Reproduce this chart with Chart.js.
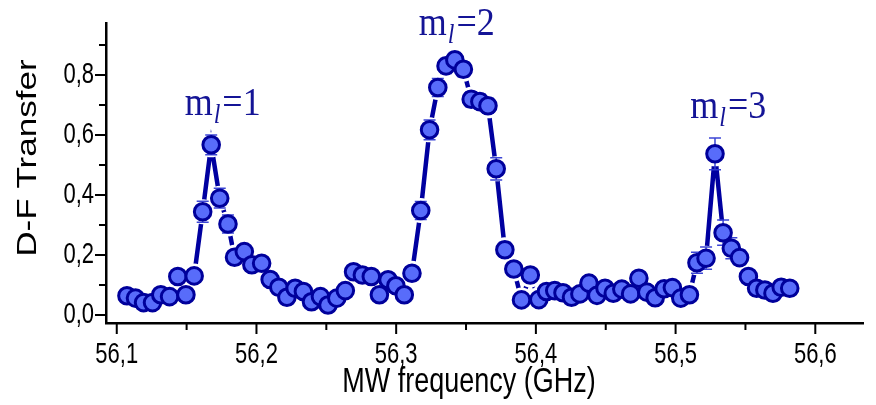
<!DOCTYPE html>
<html>
<head>
<meta charset="utf-8">
<script src="https://cdn.jsdelivr.net/npm/chart.js@4.4.1/dist/chart.umd.min.js"></script>
<style>
  html, body { margin: 0; padding: 0; background: #fff; }
  canvas { display: block; }
</style>
</head>
<body>
<canvas id="myChart" width="876" height="405"></canvas>
<script>
// MW frequency (GHz)
const freq = [
  56.1073, 56.1134, 56.1192, 56.1256, 56.1315, 56.1378, 56.1437, 56.1495, 56.1554, 56.1615,
  56.1676, 56.1737, 56.1796, 56.1843, 56.1913, 56.1967, 56.2037, 56.2098, 56.2160, 56.2218,
  56.2277, 56.2336, 56.2394, 56.2458, 56.2512, 56.2575, 56.2636, 56.2695, 56.2758, 56.2822,
  56.2880, 56.2942, 56.2998, 56.3058, 56.3113, 56.3176, 56.3239, 56.3298, 56.3357, 56.3420,
  56.3481, 56.3537, 56.3599, 56.3657, 56.3716, 56.3778, 56.3842, 56.3897, 56.3960, 56.4021,
  56.4076, 56.4135, 56.4194, 56.4255, 56.4315, 56.4380, 56.4437, 56.4495, 56.4554, 56.4615,
  56.4678, 56.4737, 56.4794, 56.4854, 56.4918, 56.4977, 56.5037, 56.5099, 56.5153, 56.5218,
  56.5282, 56.5340, 56.5399, 56.5458, 56.5521, 56.5580, 56.5639, 56.5697, 56.5756, 56.5817
];
// D-F transfer
const transfer = [
  0.064, 0.056, 0.041, 0.041, 0.067, 0.061, 0.128, 0.067, 0.130, 0.344,
  0.567, 0.389, 0.303, 0.192, 0.211, 0.167, 0.172, 0.118, 0.092, 0.059,
  0.089, 0.078, 0.044, 0.061, 0.033, 0.056, 0.081, 0.144, 0.133, 0.128,
  0.067, 0.117, 0.097, 0.067, 0.139, 0.348, 0.617, 0.758, 0.830, 0.850,
  0.819, 0.719, 0.711, 0.697, 0.487, 0.217, 0.153, 0.050, 0.133, 0.051,
  0.078, 0.081, 0.074, 0.059, 0.070, 0.106, 0.065, 0.089, 0.072, 0.086,
  0.070, 0.122, 0.076, 0.057, 0.087, 0.091, 0.056, 0.067, 0.174, 0.189,
  0.537, 0.274, 0.222, 0.191, 0.128, 0.089, 0.083, 0.072, 0.092, 0.089
];
// error bars (half height)
const errs = [
  0.015, 0.015, 0.015, 0.015, 0.015, 0.015, 0.015, 0.015, 0.015, 0.035,
  0.033, 0.033, 0.030, 0.020, 0.020, 0.020, 0.020, 0.020, 0.015, 0.015,
  0.015, 0.015, 0.015, 0.015, 0.015, 0.015, 0.015, 0.015, 0.015, 0.015,
  0.015, 0.015, 0.015, 0.015, 0.015, 0.030, 0.033, 0.030, 0.025, 0.025,
  0.025, 0.025, 0.025, 0.025, 0.037, 0.025, 0.020, 0.015, 0.015, 0.015,
  0.015, 0.015, 0.015, 0.015, 0.015, 0.015, 0.015, 0.015, 0.015, 0.015,
  0.015, 0.015, 0.015, 0.015, 0.015, 0.015, 0.015, 0.015, 0.035, 0.037,
  0.053, 0.042, 0.035, 0.025, 0.015, 0.015, 0.015, 0.015, 0.015, 0.015
];

const xTicks = [56.1, 56.2, 56.3, 56.4, 56.5, 56.6];
const xMinor = [56.15, 56.25, 56.35, 56.45, 56.55];
const yTicks = [0.0, 0.2, 0.4, 0.6, 0.8];
const yMinor = [0.1, 0.3, 0.5, 0.7, 0.9];

// peak labels m_l = 1,2,3
const peakX = [56.1486, 56.3162, 56.5105];
const peakY = [0.667, 0.933, 0.657];
const peakTail = ['=1', '=2', '=3'];

const navy = 'rgb(0,0,160)';
const stretch = 1.3; // axis text in the original is taller than wide
const sans = '"Liberation Sans", Arial, sans-serif';
const serif = '"Liberation Serif", "Times New Roman", serif';
const fmt = v => v.toFixed(1).replace('.', ',');
const pts = freq.map((f, i) => ({x: f, y: transfer[i]}));

function tallText(ctx, txt, x, y, rot, s) {
  s = s || stretch;
  ctx.save();
  ctx.translate(x, y);
  if (rot) { ctx.rotate(-Math.PI / 2); ctx.scale(s, 1); }
  else ctx.scale(1, s);
  ctx.fillText(txt, 0, 0);
  ctx.restore();
}

const decor = {
  id: 'decor',
  beforeDatasetDraw(chart, args) {
    if (args.index !== 0) return;
    const ctx = chart.ctx, xs = chart.scales.x, ys = chart.scales.y;
    ctx.save();
    ctx.strokeStyle = 'rgba(50,60,210,0.95)';
    ctx.lineWidth = 1.5;
    freq.forEach((f, i) => {
      const px = xs.getPixelForValue(f);
      const y1 = ys.getPixelForValue(transfer[i] + errs[i]);
      const y2 = ys.getPixelForValue(transfer[i] - errs[i]);
      ctx.beginPath();
      ctx.moveTo(px, y1); ctx.lineTo(px, y2);
      ctx.moveTo(px - 6, y1); ctx.lineTo(px + 6, y1);
      ctx.moveTo(px - 6, y2); ctx.lineTo(px + 6, y2);
      ctx.stroke();
    });
    ctx.restore();
  },
  afterDraw(chart) {
    const ctx = chart.ctx, xs = chart.scales.x, ys = chart.scales.y;
    const a = chart.chartArea;
    ctx.save();
    ctx.strokeStyle = '#000';
    ctx.lineWidth = 2;
    ctx.beginPath();
    xTicks.forEach(v => { const p = xs.getPixelForValue(v); ctx.moveTo(p, a.bottom); ctx.lineTo(p, a.bottom + 11); });
    xMinor.forEach(v => { const p = xs.getPixelForValue(v); ctx.moveTo(p, a.bottom); ctx.lineTo(p, a.bottom + 7); });
    yTicks.forEach(v => { const p = ys.getPixelForValue(v); ctx.moveTo(a.left, p); ctx.lineTo(a.left - 11, p); });
    yMinor.forEach(v => { const p = ys.getPixelForValue(v); ctx.moveTo(a.left, p); ctx.lineTo(a.left - 7, p); });
    ctx.stroke();

    // tick labels
    ctx.fillStyle = '#000';
    ctx.font = '22px ' + sans;
    ctx.textBaseline = 'middle';
    ctx.textAlign = 'center';
    xTicks.forEach(v => tallText(ctx, fmt(v), xs.getPixelForValue(v), 355));
    ctx.textAlign = 'right';
    yTicks.forEach(v => tallText(ctx, fmt(v), 94, ys.getPixelForValue(v)));

    // axis titles
    ctx.font = '27px ' + sans;
    ctx.textAlign = 'center';
    tallText(ctx, 'MW frequency (GHz)', 469, 382);
    tallText(ctx, 'D-F Transfer', 29, 158, true);

    // peak labels
    ctx.textAlign = 'left';
    ctx.textBaseline = 'alphabetic';
    ctx.fillStyle = 'rgb(20,20,150)';
    peakX.forEach((f, i) => {
      let x = xs.getPixelForValue(f);
      const y = ys.getPixelForValue(peakY[i]);
      ctx.font = '36px ' + serif;
      tallText(ctx, 'm', x, y, false, 1.12);
      x += ctx.measureText('m').width + 1;
      ctx.font = 'italic 24px ' + serif;
      tallText(ctx, 'l', x, y + 8, false, 1.12);
      x += ctx.measureText('l').width + 2;
      ctx.font = '36px ' + serif;
      tallText(ctx, peakTail[i], x, y, false, 1.12);
    });
    ctx.restore();
  }
};

new Chart(document.getElementById('myChart').getContext('2d'), {
  type: 'scatter',
  data: {
    datasets: [
      { // markers
        data: pts, showLine: false, order: 0,
        pointRadius: 8.3, pointBorderWidth: 3,
        pointBackgroundColor: 'rgb(88,108,250)', pointBorderColor: 'rgb(0,0,155)'
      },
      { // connecting line with gaps around symbols
        data: pts, showLine: true, order: 1,
        borderColor: navy, borderWidth: 4.5, tension: 0,
        pointRadius: 12.5, pointBorderWidth: 0,
        pointBackgroundColor: '#fff'
      }
    ]
  },
  options: {
    responsive: false,
    animation: false,
    layout: { padding: { top: 23, right: 0, left: 0, bottom: 0 } },
    plugins: { legend: { display: false }, tooltip: { enabled: false } },
    scales: {
      x: {
        type: 'linear', min: 56.0923, max: 56.6345,
        grid: { display: false },
        border: { display: true, color: '#000', width: 2.5 },
        afterBuildTicks: s => { s.ticks = xTicks.map(v => ({value: v})); },
        afterFit: s => { s.height = 82; },
        ticks: { display: false }
      },
      y: {
        type: 'linear', min: -0.027, max: 0.973,
        grid: { display: false },
        border: { display: true, color: '#000', width: 2.5 },
        afterBuildTicks: s => { s.ticks = yTicks.map(v => ({value: v})); },
        afterFit: s => { s.width = 106; },
        ticks: { display: false }
      }
    }
  },
  plugins: [decor]
});
</script>
</body>
</html>
